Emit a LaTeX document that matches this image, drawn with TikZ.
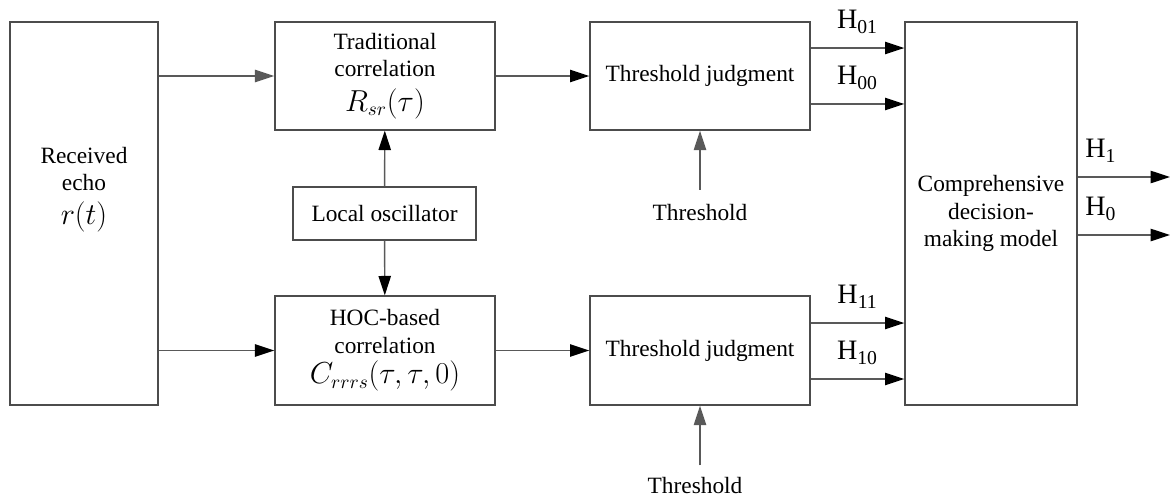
\documentclass[tikz,border=0pt]{standalone}
\usepackage{fontspec}
\setmainfont{Liberation Serif}
\usetikzlibrary{arrows.meta}

\tikzset{
  block/.style={draw=black!70, line width=0.8pt, align=center,
    font=\fontsize{13.3}{15.5}\selectfont, inner sep=2pt},
  link/.style={draw=black!65, line width=0.8pt,
    -{Triangle[length=11pt,width=7pt,color=black]}},
  glink/.style={draw=black!65, line width=0.8pt,
    -{Triangle[length=11pt,width=7pt]}},
  hlabel/.style={font=\fontsize{16}{18}\selectfont, inner sep=1pt},
  plain/.style={font=\fontsize{13.3}{15.5}\selectfont},
}
\newcommand{\bigmath}[1]{{\fontsize{16}{20}\selectfont$#1$}}

\begin{document}
\begin{tikzpicture}[x=0.02cm,y=-0.02cm]
    \useasboundingbox (0,0) rectangle (1172,497);
    % blocks
    \node[block, minimum width=2.96cm, minimum height=7.66cm] (echo) at (84,213.5)
        {Received\\echo\\[4pt]\bigmath{r(t)}\\[16pt]};
    \node[block, minimum width=4.4cm, minimum height=2.16cm] (trad) at (385,76)
        {Traditional\\correlation\\[4pt]\bigmath{R_{sr}(\tau)}};
    \node[block, minimum width=3.66cm, minimum height=1.06cm] (osc) at (384.5,213.5)
        {Local oscillator};
    \node[block, minimum width=4.4cm, minimum height=2.18cm] (hoc) at (385,350.5)
        {HOC-based\\correlation\\[2pt]\bigmath{C_{rrrs}(\tau,\tau,0)}};
    \node[block, minimum width=4.4cm, minimum height=2.16cm] (tj1) at (700,76)
        {Threshold judgment};
    \node[block, minimum width=4.4cm, minimum height=2.18cm] (tj2) at (700,350.5)
        {Threshold judgment};
    \node[block, minimum width=3.44cm, minimum height=7.66cm] (comp) at (991,213.5)
        {Comprehensive\\decision-\\making model};
    \node[plain] (th1) at (700,213) {Threshold};
    \node[plain] (th2) at (695,485) {Threshold};
    \coordinate (out1) at (1170,177);
    \coordinate (out0) at (1170,235);

    % connectors
    \draw[glink] (echo.east |- trad) -- (trad);
    \draw[link] (echo.east |- hoc) -- (hoc);
    \draw[link] (trad) -- (tj1);
    \draw[link] (hoc) -- (tj2);
    \draw[link] (osc) -- (trad);
    \draw[link] (osc) -- (hoc);
    \draw[glink] ([yshift=5pt]th1.north) -- (tj1);
    \draw[glink] ([yshift=3pt]th2.north -| tj2) -- (tj2);
    \draw[link] ([yshift=0.56cm]tj1.east) -- node[hlabel,above=7pt]{H\textsubscript{01}} ([yshift=0.56cm]tj1.east -| comp.west);
    \draw[link] ([yshift=-0.56cm]tj1.east) -- node[hlabel,above=7pt]{H\textsubscript{00}} ([yshift=-0.56cm]tj1.east -| comp.west);
    \draw[link] ([yshift=0.55cm]tj2.east) -- node[hlabel,above=7pt]{H\textsubscript{11}} ([yshift=0.55cm]tj2.east -| comp.west);
    \draw[link] ([yshift=-0.57cm]tj2.east) -- node[hlabel,above=7pt]{H\textsubscript{10}} ([yshift=-0.57cm]tj2.east -| comp.west);
    \draw[link] (comp.east |- out1) -- node[hlabel,above=7pt,pos=0.25]{H\textsubscript{1}} (out1);
    \draw[link] (comp.east |- out0) -- node[hlabel,above=7pt,pos=0.25]{H\textsubscript{0}} (out0);
\end{tikzpicture}
\end{document}
